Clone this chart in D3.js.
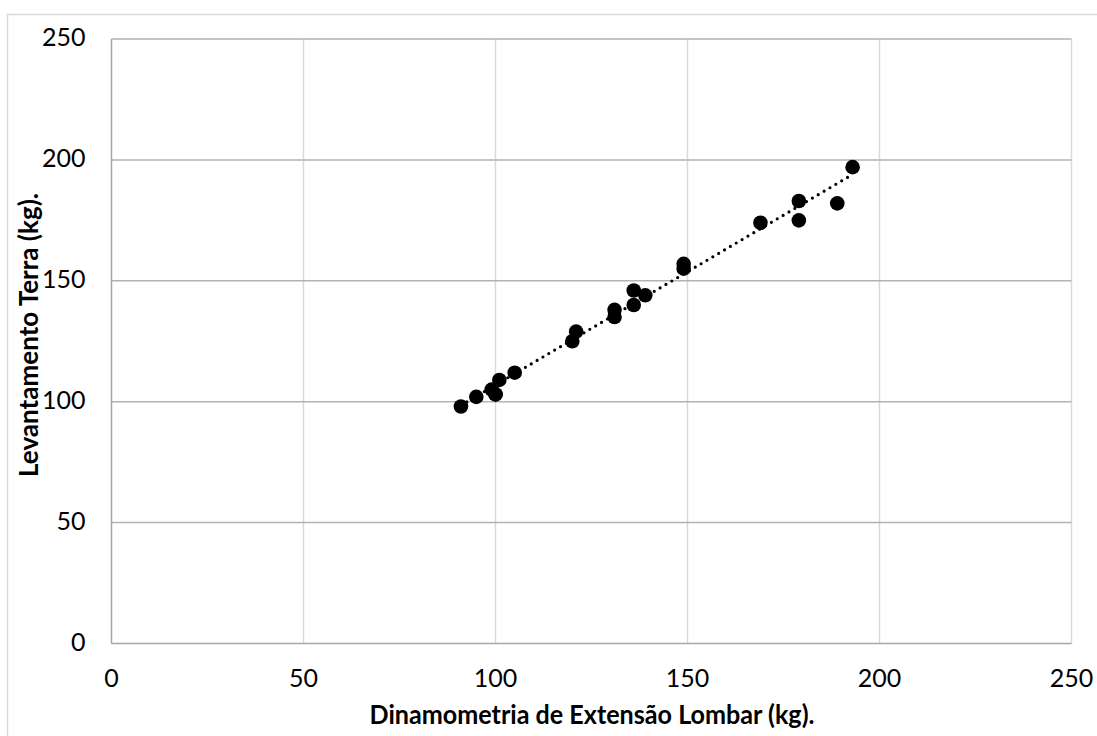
<!DOCTYPE html>
<html>
<head>
<meta charset="utf-8">
<script src="https://cdn.jsdelivr.net/npm/d3@7"></script>
<style>
  body { margin: 0; background: #fff; }
  text { font-family: Lato, "Liberation Sans", Arial, sans-serif; fill: #000; }
</style>
</head>
<body>
<svg width="1097" height="736"></svg>
<script>
// Dinamometria lombar (x) vs levantamento terra (y), kg
const dinamometria = [91, 95, 99, 100, 100, 101, 105, 120, 121, 131, 131, 136, 136, 139, 149, 149, 169, 179, 179, 189, 193];
const levantamento = [98, 102, 105, 103, 103, 109, 112, 125, 129, 135, 138, 140, 146, 144, 157, 155, 174, 183, 175, 182, 197];
const xTicks = [0, 50, 100, 150, 200, 250];
const yTicks = [0, 50, 100, 150, 200, 250];

const svg = d3.select('svg');
const width  = +svg.attr('width');
const height = +svg.attr('height');

const margin = {left: 111.5, top: 39, right: width - 1071.5, bottom: height - 643.5};

// outer chart border
svg.append('rect')
    .attr('x', 7.5).attr('y', 14.5)
    .attr('width', width + 10).attr('height', height + 10)
    .attr('fill', 'none')
    .attr('stroke', '#d9d9d9')
    .attr('stroke-width', 1.5);

const x = d3.scaleLinear().domain([0, 250]).range([margin.left, width - margin.right]);
const y = d3.scaleLinear().domain([0, 250]).range([height - margin.bottom, margin.top]);

const g = svg.append('g');

// vertical gridlines (light)
g.selectAll('.vgrid').data(xTicks.slice(1))
  .enter().append('line')
    .attr('class', 'vgrid')
    .attr('x1', d => x(d)).attr('x2', d => x(d))
    .attr('y1', y(0)).attr('y2', y(250))
    .attr('stroke', '#d9d9d9')
    .attr('stroke-width', 1.5);

// horizontal gridlines (darker)
g.selectAll('.hgrid').data(yTicks.slice(1))
  .enter().append('line')
    .attr('class', 'hgrid')
    .attr('x1', x(0)).attr('x2', x(250))
    .attr('y1', d => y(d)).attr('y2', d => y(d))
    .attr('stroke', '#b3b3b3')
    .attr('stroke-width', 1.5);

// axes lines
g.append('line')
    .attr('x1', x(0)).attr('x2', x(250))
    .attr('y1', y(0)).attr('y2', y(0))
    .attr('stroke', '#a6a6a6').attr('stroke-width', 1.5);
g.append('line')
    .attr('x1', x(0)).attr('x2', x(0))
    .attr('y1', y(0)).attr('y2', y(250))
    .attr('stroke', '#a6a6a6').attr('stroke-width', 1.5);

// tick labels
g.selectAll('.xlab').data(xTicks)
  .enter().append('text')
    .attr('class', 'xlab')
    .attr('x', d => x(d))
    .attr('y', y(0) + 43)
    .attr('text-anchor', 'middle')
    .style('font-size', '25px')
    .text(d => d);

g.selectAll('.ylab').data(yTicks)
  .enter().append('text')
    .attr('class', 'ylab')
    .attr('x', x(0) - 26)
    .attr('y', d => y(d) + 7)
    .attr('text-anchor', 'end')
    .style('font-size', '25px')
    .text(d => d);

// axis titles
svg.append('text')
    .attr('x', 592).attr('y', 724)
    .attr('text-anchor', 'middle')
    .attr('textLength', 445).attr('lengthAdjust', 'spacingAndGlyphs')
    .style('font-size', '27px').style('font-weight', 'bold')
    .text('Dinamometria de Extensão Lombar (kg).');

svg.append('text')
    .attr('transform', 'translate(38,335) rotate(-90)')
    .attr('text-anchor', 'middle')
    .attr('textLength', 284).attr('lengthAdjust', 'spacingAndGlyphs')
    .style('font-size', '27px').style('font-weight', 'bold')
    .text('Levantamento Terra (kg).');

// linear trendline (least squares)
const points = dinamometria.map((d, i) => [d, levantamento[i]]);
const mx = d3.mean(dinamometria), my = d3.mean(levantamento);
const slope = d3.sum(points, p => (p[0] - mx) * (p[1] - my)) / d3.sum(points, p => (p[0] - mx) ** 2);
const intercept = my - slope * mx;
const [x0, x1] = d3.extent(dinamometria);

g.append('line')
    .attr('x1', x(x0)).attr('y1', y(slope * x0 + intercept))
    .attr('x2', x(x1)).attr('y2', y(slope * x1 + intercept))
    .attr('stroke', '#000')
    .attr('stroke-width', 3.2)
    .attr('stroke-linecap', 'round')
    .attr('stroke-dasharray', '0 6.8');

// markers
g.selectAll('circle').data(points)
  .enter().append('circle')
    .attr('cx', d => x(d[0]))
    .attr('cy', d => y(d[1]))
    .attr('r', 7.3)
    .attr('fill', '#000');
</script>
</body>
</html>
